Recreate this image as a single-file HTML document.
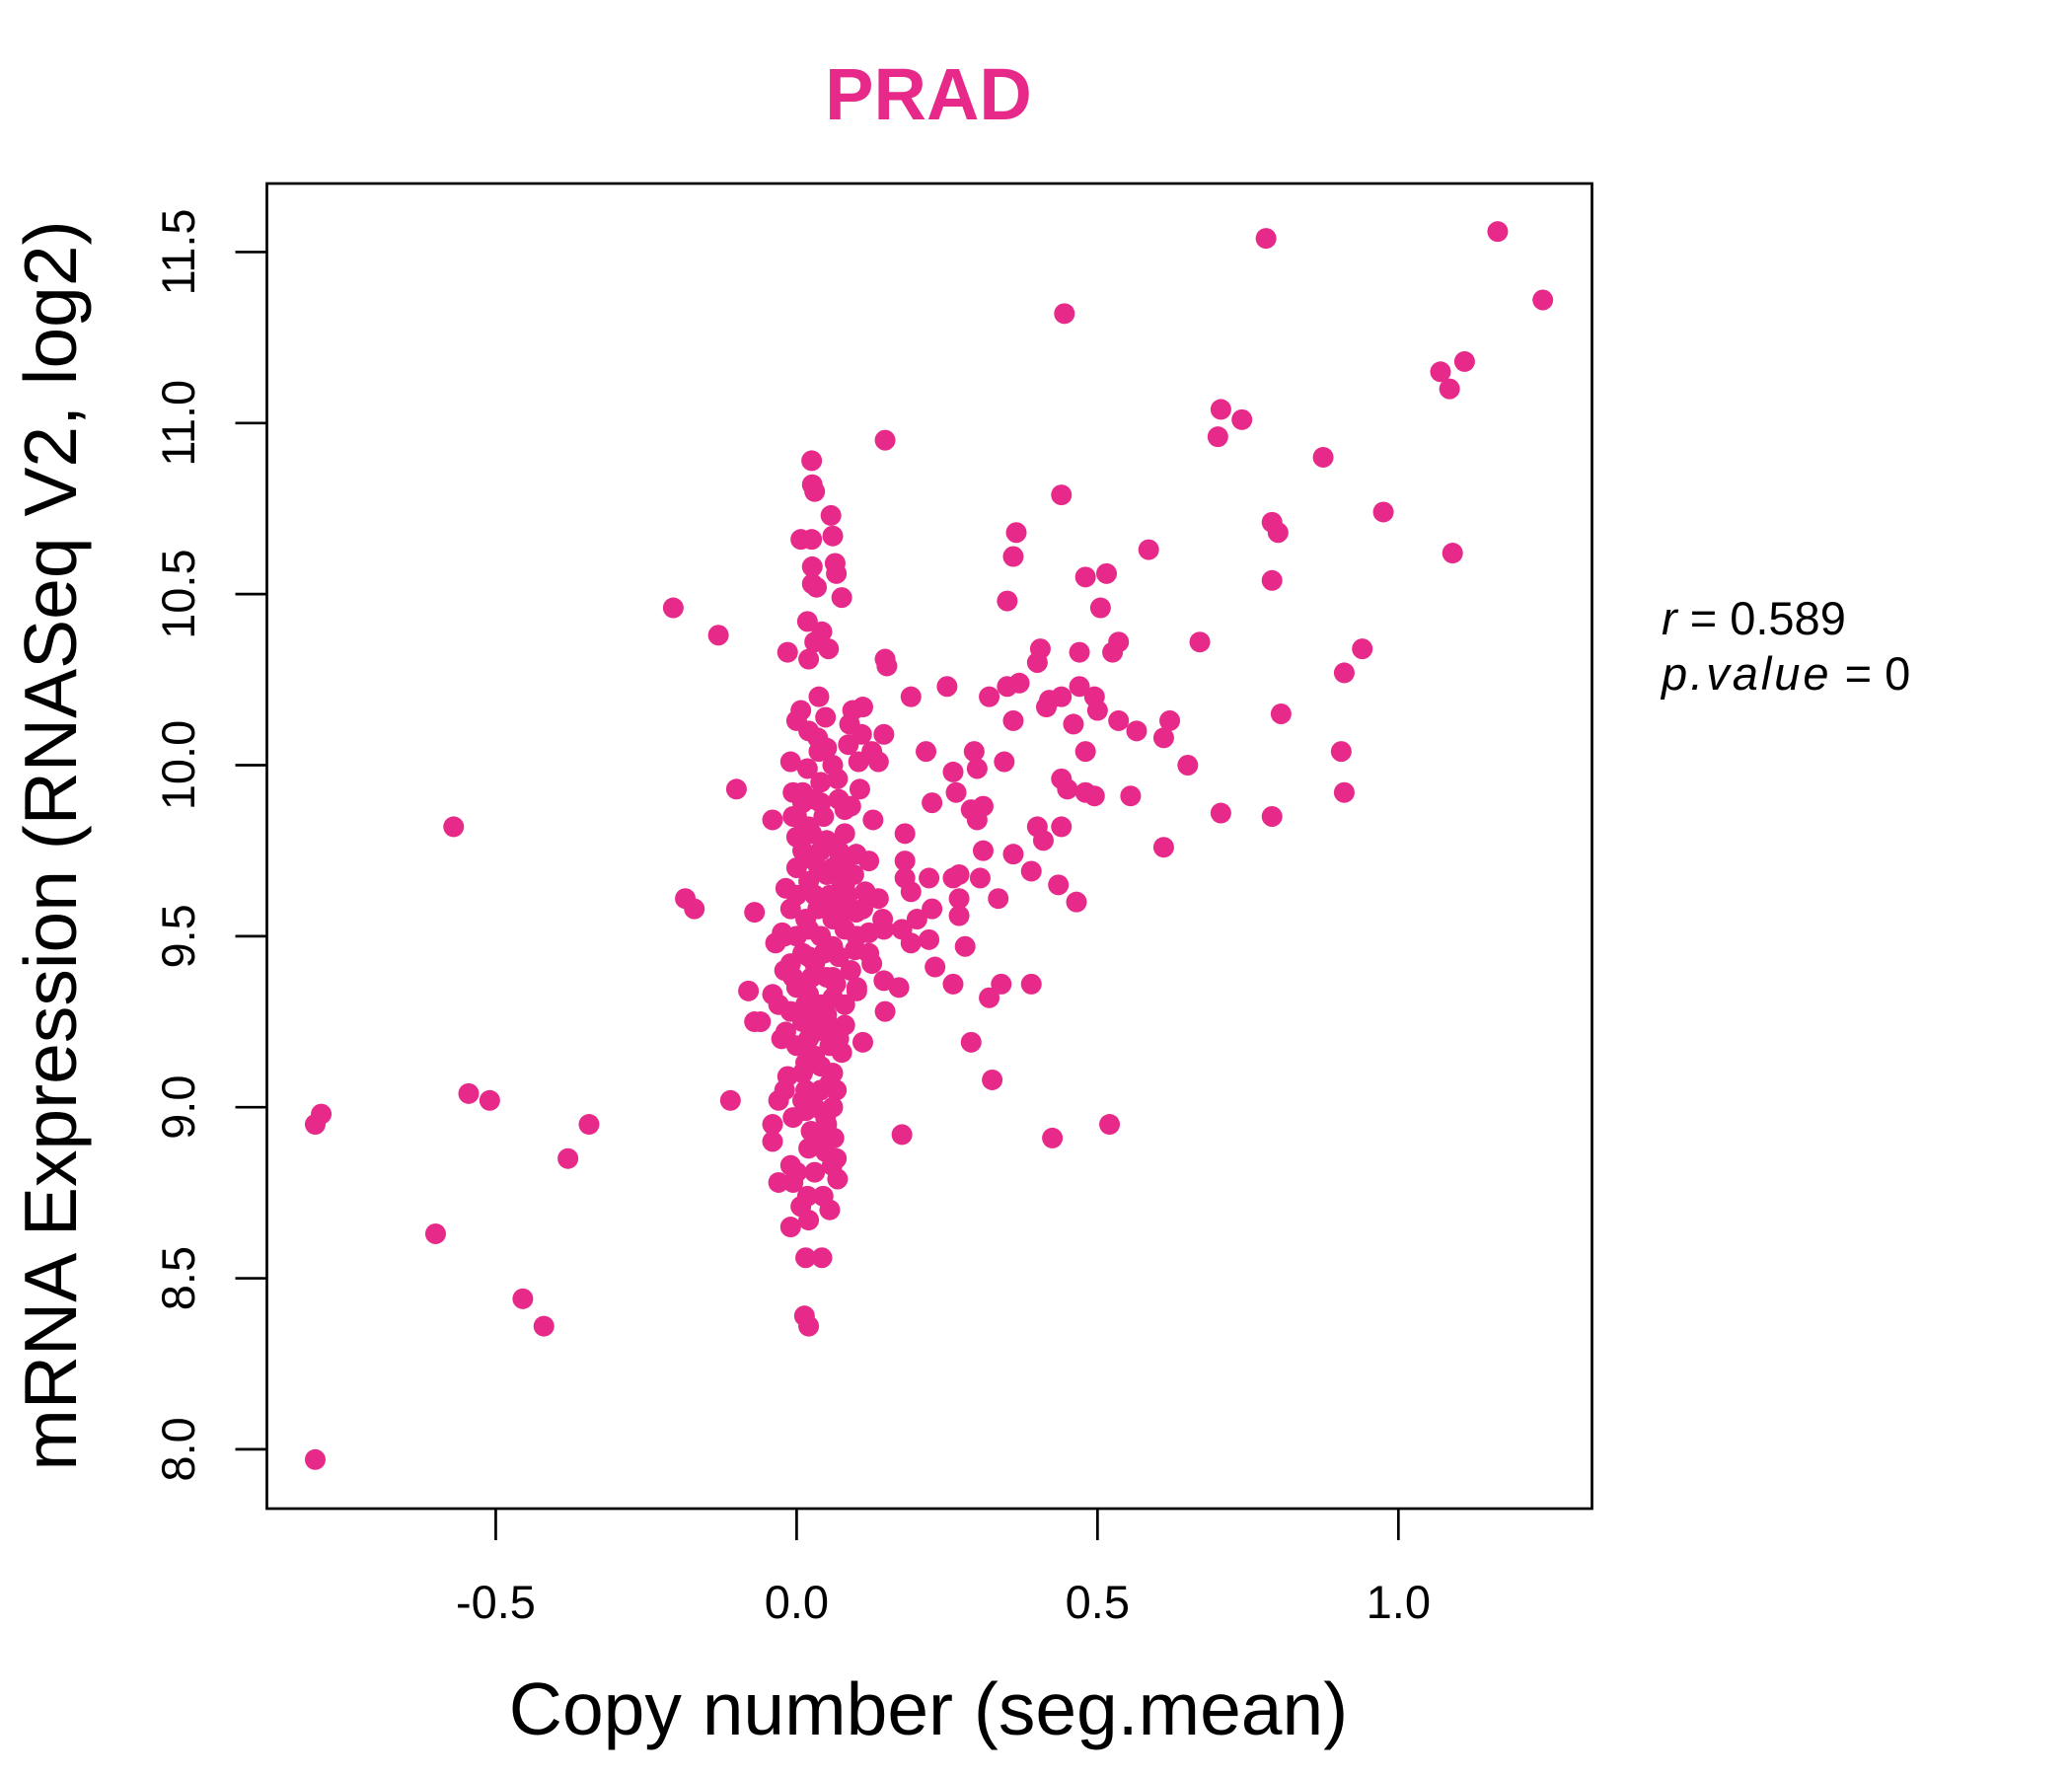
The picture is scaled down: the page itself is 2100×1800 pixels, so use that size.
<!DOCTYPE html>
<html><head><meta charset="utf-8"><style>
html,body{margin:0;padding:0;background:#fff;}
svg{display:block;font-family:"Liberation Sans",sans-serif;}
</style></head><body>
<svg id="chart" width="2100" height="1800" viewBox="0 0 2100 1800">
<text x="941" y="121" text-anchor="middle" font-size="74" font-weight="bold" fill="#E7298A">PRAD</text>
<rect x="270.5" y="186" width="1343" height="1343" fill="none" stroke="#000" stroke-width="2.7"/>
<g id="xaxis"></g>
<g id="yaxis"></g>
<g id="points"></g>
<text x="941" y="1758" text-anchor="middle" font-size="75">Copy number (seg.mean)</text>
<text transform="translate(77,857) rotate(-90)" text-anchor="middle" font-size="75">mRNA Expression (RNASeq V2, log2)</text>
<text x="1684" y="643" font-size="47"><tspan font-style="italic">r</tspan> = 0.589</text>
<text x="1684" y="699" font-size="47"><tspan font-style="italic" letter-spacing="3">p.value</tspan> = 0</text>
</svg>
<script>
const xTicks=[-0.5,0,0.5,1.0];
const xTickLabels=["-0.5","0.0","0.5","1.0"];
const yTicks=[8,8.5,9,9.5,10,10.5,11,11.5];
const yTickLabels=["8.0","8.5","9.0","9.5","10.0","10.5","11.0","11.5"];
const xs=[-0.80,-0.80,-0.79,-0.60,-0.57,-0.545,-0.51,-0.455,-0.42,-0.38,-0.345,-0.205,-0.13,-0.185,-0.17,-0.10,-0.11,-0.07,-0.08,-0.07,-0.06,-0.04,
0.78,1.165,1.24,0.445,1.07,1.11,1.085,0.705,0.70,0.74,0.147,0.875,0.44,0.79,0.80,0.975,1.09,0.365,0.36,0.585,0.79,0.48,0.515,0.35,0.505,0.67,0.535,0.525,0.405,0.47,0.94,0.91,0.40,0.147,0.15,0.25,0.37,0.35,0.32,0.19,0.44,0.47,0.495,0.415,0.42,0.50,0.805,0.535,0.36,0.62,0.46,0.565,0.61,0.215,0.295,0.48,0.905,0.30,0.345,0.65,0.26,0.44,0.265,0.45,0.48,0.495,0.555,0.91,0.225,0.29,0.31,0.30,0.705,0.79,0.40,0.44,0.18,0.41,0.61,0.31,0.36,0.18,0.39,0.22,0.26,0.18,0.305,0.27,0.435,0.19,0.27,0.335,0.465,0.225,0.27,0.2,0.175,0.145,0.19,0.22,0.28,0.23,0.26,0.34,0.39,0.32,0.17,0.147,0.29,0.11,0.325,0.175,0.425,0.52,
0.025,0.026,0.03,0.057,0.007,0.025,0.06,0.026,0.064,0.066,0.026,0.033,0.075,0.018,0.042,0.03,0.053,-0.015,0.02,0.037,0.007,0.048,0.11,0.093,0.0,0.088,0.108,0.145,0.035,0.086,0.125,0.037,-0.01,0.103,0.136,0.018,0.068,0.105,-0.006,0.01,0.04,0.08,0.127,-0.006,0.02,0.0,0.099,0.12,0.072,0.037,-0.018,0.08,0.114,0.059,0.136,0.099,0.072,0.143,-0.024,-0.035,0.12,0.097,0.125,0.02,0.06,-0.006,0.145,-0.04,0.1,0.026,0.08,-0.018,0.055,0.075,0.015,-0.015,0.055,0.066,-0.03,0.015,0.048,-0.006,-0.04,0.024,-0.04,0.062,0.048,0.066,-0.01,0.059,0.0,0.03,0.068,-0.03,-0.006,0.018,0.044,0.007,0.055,0.02,-0.01,0.015,0.042,0.013,0.02,
0.0,0.01,0.02,0.03,0.04,0.05,0.06,0.0,-0.01,0.02,0.04,0.06,0.01,-0.02,0.03,0.05,0.07,0.0,0.02,0.04,0.06,-0.01,0.01,0.03,0.05,0.07,0.0,0.02,0.04,0.06,-0.02,0.01,0.03,0.05,0.0,0.015,0.035,0.055,0.075,0.09,0.08,0.1,0.09,0.08,0.1,-0.03,-0.025,-0.02,0.025,0.045,0.05,0.07,0.08,0.03,0.04,0.06,0.05,0.02,0.03,0.045,0.065,0.025,0.015,0.035,0.055,0.01,0.04,0.02,-0.01,0.07,0.085,0.11,0.12,0.095,0.06,0.04,0.0,0.01,0.07,0.08,0.09,0.05,0.03,0.015,0.06,0.045,0.02];
const ys=[7.97,8.95,8.98,8.63,9.82,9.04,9.02,8.44,8.36,8.85,8.95,10.46,10.38,9.61,9.58,9.93,9.02,9.57,9.34,9.25,9.25,9.84,
11.54,11.56,11.36,11.32,11.15,11.18,11.10,11.04,10.96,11.01,10.95,10.90,10.79,10.71,10.68,10.74,10.62,10.68,10.61,10.63,10.54,10.55,10.56,10.48,10.46,10.36,10.36,10.33,10.34,10.33,10.34,10.27,10.30,10.31,10.29,10.23,10.24,10.23,10.20,10.20,10.20,10.23,10.20,10.17,10.19,10.16,10.15,10.13,10.13,10.13,10.12,10.10,10.08,10.04,10.04,10.04,10.04,9.99,10.01,10.00,9.98,9.96,9.92,9.93,9.92,9.91,9.91,9.92,9.89,9.87,9.88,9.84,9.86,9.85,9.82,9.82,9.80,9.78,9.76,9.75,9.74,9.72,9.69,9.67,9.67,9.67,9.67,9.68,9.65,9.63,9.61,9.61,9.60,9.58,9.56,9.55,9.52,9.52,9.48,9.49,9.47,9.41,9.36,9.36,9.36,9.32,9.35,9.28,9.19,9.19,9.08,8.92,8.91,8.95,
10.89,10.82,10.80,10.73,10.66,10.66,10.67,10.58,10.59,10.56,10.53,10.52,10.49,10.42,10.39,10.36,10.34,10.33,10.31,10.20,10.16,10.14,10.17,10.16,10.13,10.12,10.09,10.09,10.08,10.06,10.04,10.04,10.01,10.01,10.01,9.99,9.96,9.93,9.92,9.89,9.89,9.87,9.84,9.85,9.82,9.79,9.74,9.72,9.73,9.69,9.64,9.65,9.63,9.60,9.61,9.57,9.56,9.55,9.51,9.48,9.51,9.46,9.42,9.44,9.38,9.38,9.37,9.33,9.34,9.28,9.24,9.22,9.21,9.16,9.13,9.09,9.07,9.05,9.02,8.99,8.97,8.97,8.95,8.93,8.90,8.91,8.87,8.85,8.83,8.83,8.81,8.81,8.79,8.78,8.78,8.74,8.74,8.71,8.70,8.67,8.65,8.56,8.56,8.39,8.36,
9.7,9.75,9.66,9.72,9.6,9.68,9.55,9.62,9.58,9.52,9.5,9.47,9.45,9.4,9.42,9.38,9.44,9.35,9.33,9.3,9.32,9.28,9.25,9.22,9.27,9.2,9.18,9.15,9.12,9.1,9.05,9.02,9.0,8.95,9.5,9.55,9.58,9.62,9.65,9.58,9.52,9.5,9.4,9.3,9.35,9.3,9.2,9.5,9.8,9.85,9.78,9.75,9.7,9.9,9.95,10.0,10.05,10.1,9.62,9.45,9.36,9.38,9.3,9.26,9.18,9.1,9.05,9.2,9.42,9.55,9.62,9.58,9.45,9.68,9.7,9.75,9.85,9.92,9.9,9.8,9.88,9.25,9.15,9.05,9.0,8.9,8.88];

const NS='http://www.w3.org/2000/svg';
function xScale(v){return 807.4+v*609.9;}
function yScale(v){return 1468.9-(v-8)*346.7;}
const xa=document.getElementById('xaxis'),ya=document.getElementById('yaxis'),pg=document.getElementById('points');
xTicks.forEach((t,i)=>{
  const l=document.createElementNS(NS,'line');
  l.setAttribute('x1',xScale(t));l.setAttribute('x2',xScale(t));l.setAttribute('y1',1529);l.setAttribute('y2',1561);
  l.setAttribute('stroke','#000');l.setAttribute('stroke-width','2.7');
  
  
  xa.appendChild(l);
  const tx=document.createElementNS(NS,'text');
  tx.setAttribute('x',xScale(t));tx.setAttribute('y',1640);tx.setAttribute('text-anchor','middle');tx.setAttribute('font-size','47');
  tx.textContent=xTickLabels[i];
  
  
  xa.appendChild(tx);
});
yTicks.forEach((t,i)=>{
  const l=document.createElementNS(NS,'line');
  l.setAttribute('x1',238.5);l.setAttribute('x2',270.5);l.setAttribute('y1',yScale(t));l.setAttribute('y2',yScale(t));
  l.setAttribute('stroke','#000');l.setAttribute('stroke-width','2.7');
  
  
  ya.appendChild(l);
  const tx=document.createElementNS(NS,'text');
  tx.setAttribute('transform','translate(197,'+yScale(t)+') rotate(-90)');
  tx.setAttribute('text-anchor','middle');tx.setAttribute('font-size','47');
  tx.textContent=yTickLabels[i];
  
  
  ya.appendChild(tx);
});
for(let i=0;i<xs.length;i++){
  const c=document.createElementNS(NS,'circle');
  c.setAttribute('cx',xScale(xs[i]));c.setAttribute('cy',yScale(ys[i]));c.setAttribute('r','10.5');
  c.setAttribute('fill','#E7298A');
  
  
  pg.appendChild(c);
}
</script>
</body></html>
